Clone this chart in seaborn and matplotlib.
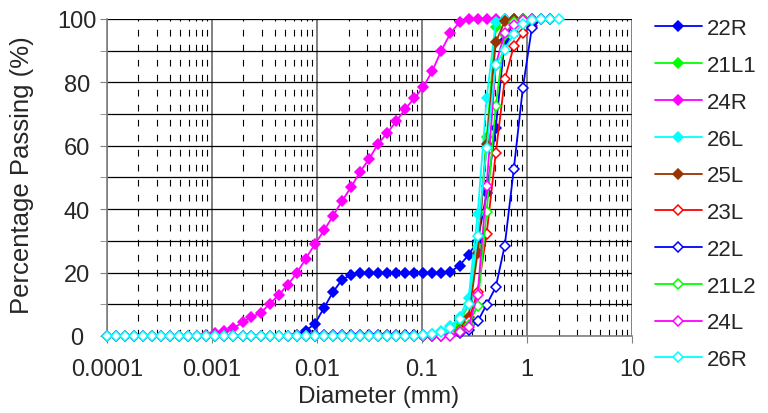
import numpy as np
import pandas as pd
import matplotlib
matplotlib.use('Agg')
import matplotlib.pyplot as plt
import seaborn as sns
from matplotlib.ticker import FixedLocator, NullFormatter

# Particle diameters (mm)
diameter = [0.0001, 0.000122, 0.000149, 0.000181, 0.000221, 0.000269, 0.000328,
            0.000400, 0.000488, 0.000595, 0.000726, 0.000885, 0.00108, 0.00132,
            0.00160, 0.00196, 0.00238, 0.00291, 0.00355, 0.00432, 0.00527,
            0.00643, 0.00784, 0.00955, 0.0117, 0.0142, 0.0173, 0.0211, 0.0257,
            0.0314, 0.0383, 0.0467, 0.0569, 0.0694, 0.0846, 0.103, 0.126, 0.153,
            0.187, 0.228, 0.278, 0.339, 0.413, 0.504, 0.614, 0.749, 0.913, 1.11,
            1.36, 1.66, 2.02]

# percentage passing per sample (starting at the first diameter)
p_22R = [0.0] * 21 + [0.4, 1.7, 3.8, 8.9, 13.8, 17.7, 19.3, 19.8, 19.8, 19.8,
                      19.8, 19.8, 19.8, 19.8, 19.8, 19.8, 19.8, 20.3, 22.2, 25.6,
                      30.0, 45.0, 65.6, 93.2, 99.0, 100.0, 100.0]
p_21L1 = [0.0] * 37 + [0.5, 1.5, 4.0, 10.0, 28.0, 62.7, 97.4, 99.5, 100.0, 100.0]
p_24R = [0.0] * 11 + [0.3, 0.9, 1.7, 2.4, 4.3, 5.9, 7.3, 10.1, 12.9, 16.1, 19.8,
                      24.4, 28.9, 33.3, 37.8, 42.5, 46.9, 51.7, 55.8, 60.6, 64.0,
                      67.7, 71.6, 75.0, 78.5, 83.7, 90.0, 95.5, 99.0, 100.0, 100.0,
                      100.0, 100.0, 100.0, 100.0]
p_26L = [0.0] * 36 + [0.5, 1.5, 3.0, 6.0, 12.0, 38.5, 75.0, 99.0, 100.0, 100.0]
p_25L = [0.0] * 38 + [0.5, 2.0, 6.0, 26.2, 60.6, 92.6, 99.2, 100.0, 100.0]
p_23L = [0.0] * 37 + [0.3, 0.8, 1.8, 4.8, 14.0, 32.2, 57.6, 80.9, 91.4, 95.6,
                      97.7, 100.0, 100.0]
p_22L = [0.0] * 22 + [0.4] * 17 + [1.0, 2.0, 4.6, 9.9, 15.4, 28.5, 52.7, 78.2,
                                   97.0, 100.0, 100.0]
p_21L2 = [0.0] * 37 + [0.3, 0.8, 1.5, 3.5, 9.6, 39.2, 72.5, 95.0, 99.0, 100.0,
                       100.0]
p_24L = [0.0] * 39 + [1.2, 2.9, 13.0, 47.4, 85.6, 95.6, 98.0, 99.5, 100.0, 100.0]
p_26R = [0.0] * 35 + [0.3, 0.6, 1.2, 2.5, 5.4, 10.1, 31.6, 59.3, 85.5, 90.3,
                      95.3, 98.4, 99.6, 100.0, 100.0, 100.0]

samples = ['22R', '21L1', '24R', '26L', '25L', '23L', '22L', '21L2', '24L', '26R']
values = [p_22R, p_21L1, p_24R, p_26L, p_25L, p_23L, p_22L, p_21L2, p_24L, p_26R]
colors = ['#0000FF', '#00FF00', '#FF00FF', '#00FFFF', '#993300',
          '#FF0000', '#0000FF', '#00FF00', '#FF00FF', '#00FFFF']
filled = [True, True, True, True, True, False, False, False, False, False]

sns.set_style('white')
plt.rcParams['font.family'] = ['Liberation Sans', 'DejaVu Sans']

fig = plt.figure(figsize=(7.68, 4.14), dpi=100)
ax = fig.add_axes([0.139, 0.186, 0.684, 0.766])

for name, pct, c, f in zip(samples, values, colors, filled):
    d = pd.DataFrame({'Diameter': diameter[:len(pct)], 'Passing': pct})
    sns.lineplot(data=d, x='Diameter', y='Passing', ax=ax, color=c, lw=1.3,
                 marker='D', markersize=5.3, mec=c, mew=1.1,
                 mfc=c if f else 'white', label=name, sort=False,
                 clip_on=False, zorder=3)

ax.set_xscale('log')
ax.set_xlim(1e-4, 10)
ax.set_ylim(0, 100)

decades = [1e-4, 1e-3, 1e-2, 1e-1, 1, 10]
ax.xaxis.set_major_locator(FixedLocator(decades))
ax.set_xticklabels(['0.0001', '0.001', '0.01', '0.1', '1', '10'])
minors = [m * 10.0 ** e for e in range(-4, 1) for m in range(2, 10)]
ax.xaxis.set_minor_locator(FixedLocator(minors))
ax.xaxis.set_minor_formatter(NullFormatter())
ax.set_yticks([0, 20, 40, 60, 80, 100])
ax.set_yticks([10, 30, 50, 70, 90], minor=True)

ax.grid(which='major', axis='x', color='#808080', lw=1.4)
ax.grid(which='minor', axis='x', color='black', lw=0.8,
        linestyle=(0, (6, 7.5)))
ax.grid(which='both', axis='y', color='black', lw=0.9)
ax.set_axisbelow(True)

ax.tick_params(axis='both', which='major', labelsize=17, length=5,
               color='#808080', direction='out', bottom=True, left=True)
ax.tick_params(axis='x', which='major', pad=11)
ax.tick_params(axis='y', which='major', pad=16.5)
for lab in ax.get_yticklabels():
    lab.set_horizontalalignment('center')
ax.tick_params(axis='x', which='minor', length=0)
ax.tick_params(axis='y', which='minor', length=5, color='#808080',
               direction='out', left=True)

for s in ['top', 'right']:
    ax.spines[s].set_visible(False)
for s in ['left', 'bottom']:
    ax.spines[s].set_color('#808080')
    ax.spines[s].set_linewidth(1.2)

ax.set_xlabel('Diameter (mm)', fontsize=17.5, va='center')
ax.set_ylabel('Percentage Passing (%)', fontsize=18.5, va='center')
ax.xaxis.set_label_coords(0.518, -0.189)
ax.yaxis.set_label_coords(-0.162, 0.51)

ax.legend(loc='upper left', bbox_to_anchor=(1.027, 1.03), frameon=False,
          fontsize=16, handlelength=2.1, labelspacing=0.71,
          handletextpad=0.25, borderaxespad=0)

plt.savefig('out.png', dpi=100)
